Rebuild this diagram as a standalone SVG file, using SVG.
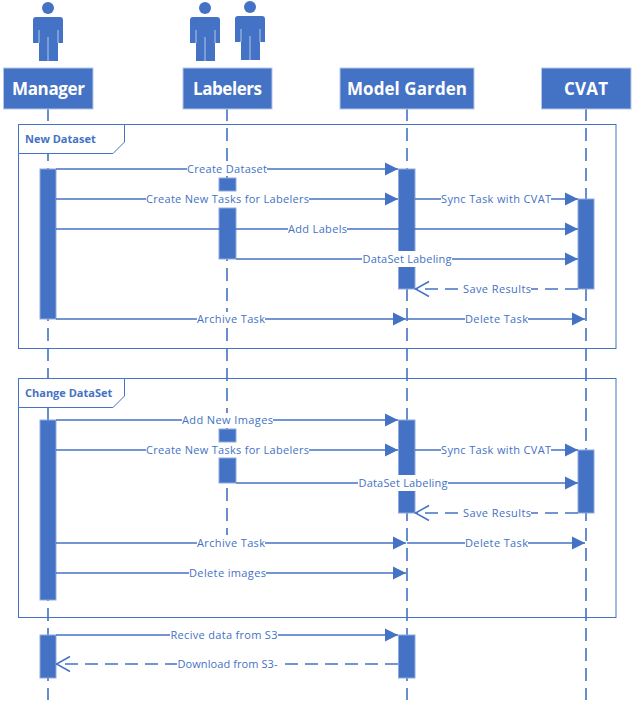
<svg xmlns="http://www.w3.org/2000/svg" width="632" height="709" viewBox="0 0 632 709">
<style>
text{font-family:"Open Sans","Noto Sans","Liberation Sans",sans-serif}
.hd{fill:#4472C4;stroke:#B4C7E7;stroke-width:1}
.hdt{fill:#fff;font-size:17px;font-weight:700;text-anchor:middle}
.life{stroke:#4472C4;stroke-width:1.6;stroke-dasharray:13 7;fill:none}
.act{fill:#4472C4;stroke:#8FAADC;stroke-width:1}
.msg{stroke:#4472C4;stroke-width:1.6;fill:none}
.ret{stroke:#4472C4;stroke-width:1.6;fill:none;stroke-dasharray:13 7}
.lb{fill:#fff}
.lt{fill:#4472C4;font-size:11px;text-anchor:middle}
.fr{fill:none;stroke:#4472C4;stroke-width:1}
.tag{fill:#fff;stroke:#4472C4;stroke-width:1}
.ft{fill:#4472C4;font-size:11px;font-weight:700}
.p{fill:#4472C4}
.sep{stroke:#B4C7E7;stroke-width:1}
</style>
<defs>
<marker id="fa" markerUnits="userSpaceOnUse" markerWidth="14" markerHeight="14" refX="13" refY="7" orient="auto"><path d="M0 .5L13 7L0 13.500z" fill="#4472C4"/></marker>
<marker id="oa" markerUnits="userSpaceOnUse" markerWidth="16" markerHeight="18" refX="15" refY="9" orient="auto"><path d="M1 1.500L14.500 9L1 16.500" fill="none" stroke="#4472C4" stroke-width="1.5"/></marker>
<g id="person"><circle cx="0" cy="8" r="6"/><path d="M-12 17H12Q15 17 15 20V43H10V61H-9V43H-15V20Q-15 17-12 17z"/><path class="sep" d="M0 37V61M-9 30V43M10 30V43"/></g>
</defs>
<g id="lifelines">
<path class="life" d="M48 108V700"/>
<path class="life" d="M227 108V178"/>
<path class="life" d="M227 208V429"/>
<path class="life" stroke-dashoffset="10" d="M227 458V535"/>
<path class="life" d="M407 108V700"/>
<path class="life" d="M586 108V700"/>
</g>
<g id="frame-new-dataset"><rect class="fr" x="18.500" y="124.500" width="597.500" height="224"/><path class="tag" d="M18.500 124.500H124.500V142L113 153.500H18.500z"/><text class="ft" x="25" y="143">New Dataset</text></g>
<g id="frame-change-dataset"><rect class="fr" x="18.500" y="378.500" width="597.500" height="239"/><path class="tag" d="M18.500 378.500H124.500V396L113 407.500H18.500z"/><text class="ft" x="25" y="397">Change DataSet</text></g>
<g id="manager"><use href="#person" x="48" class="p"/><rect class="hd" x="3.500" y="68" width="89.500" height="41"/><text class="hdt" x="48.500" y="95" textLength="73">Manager</text></g>
<g id="labelers"><use href="#person" x="205" class="p"/><use href="#person" x="250" y="-1" class="p"/><rect class="hd" x="183" y="68" width="89" height="41"/><text class="hdt" x="227.500" y="95" textLength="69">Labelers</text></g>
<g id="model-garden"><rect class="hd" x="340" y="68" width="134" height="41"/><text class="hdt" x="407" y="95" textLength="120">Model Garden</text></g>
<g id="cvat"><rect class="hd" x="541.500" y="68" width="89.500" height="41"/><text class="hdt" x="586" y="95" textLength="44">CVAT</text></g>
<g id="activations">
<rect class="act" x="40" y="169" width="16" height="150"/><rect class="act" x="40" y="420" width="16" height="180"/><rect class="act" x="40" y="635" width="16" height="43"/>
<rect class="act" x="219" y="178" width="17" height="13"/><rect class="act" x="219" y="208" width="17" height="51"/><rect class="act" x="219" y="429" width="17" height="13"/><rect class="act" x="219" y="458" width="17" height="25"/>
<rect class="act" x="398.500" y="169" width="16.500" height="120"/><rect class="act" x="398.500" y="420" width="16.500" height="93"/><rect class="act" x="398.500" y="635" width="16.500" height="43"/>
<rect class="act" x="578" y="199" width="16" height="90"/><rect class="act" x="578" y="450" width="16" height="63"/>
</g>
<g id="connectors">
<path class="msg" marker-end="url(#fa)" d="M56 169H398"/>
<path class="msg" marker-end="url(#fa)" d="M56 199H398"/>
<path class="msg" marker-end="url(#fa)" d="M415 199H578"/>
<path class="msg" marker-end="url(#fa)" d="M56 229H578"/>
<path class="msg" marker-end="url(#fa)" d="M236 259H578"/>
<path class="ret" marker-end="url(#oa)" d="M578 289H415"/>
<path class="msg" marker-end="url(#fa)" d="M56 319H406"/>
<path class="msg" marker-end="url(#fa)" d="M407 319H585"/>
<path class="msg" marker-end="url(#fa)" d="M56 420H398"/>
<path class="msg" marker-end="url(#fa)" d="M56 450H398"/>
<path class="msg" marker-end="url(#fa)" d="M415 450H578"/>
<path class="msg" marker-end="url(#fa)" d="M236 483H578"/>
<path class="ret" marker-end="url(#oa)" d="M578 513H415"/>
<path class="msg" marker-end="url(#fa)" d="M56 543H406"/>
<path class="msg" marker-end="url(#fa)" d="M407 543H585"/>
<path class="msg" marker-end="url(#fa)" d="M56 573H406"/>
<path class="msg" marker-end="url(#fa)" d="M56 635H398"/>
<path class="ret" marker-end="url(#oa)" d="M398 664H56"/>
</g>
<g id="labels">
<rect class="lb" x="187" y="162" width="80" height="14"/><text class="lt" x="227" y="173" textLength="80">Create Dataset</text>
<rect class="lb" x="146" y="192" width="163" height="14"/><text class="lt" x="227.500" y="203" textLength="163">Create New Tasks for Labelers</text>
<rect class="lb" x="441" y="192" width="110" height="14"/><text class="lt" x="496" y="203" textLength="110">Sync Task with CVAT</text>
<rect class="lb" x="288" y="222" width="59" height="14"/><text class="lt" x="317.500" y="233" textLength="59">Add Labels</text>
<rect class="lb" x="362" y="251" width="90" height="16"/><text class="lt" x="407" y="263" textLength="89">DataSet Labeling</text>
<rect class="lb" x="463" y="282" width="68" height="14"/><text class="lt" x="497" y="293" textLength="68">Save Results</text>
<rect class="lb" x="197" y="312" width="68" height="14"/><text class="lt" x="231" y="323" textLength="68">Archive Task</text>
<rect class="lb" x="465" y="312" width="63" height="14"/><text class="lt" x="496.500" y="323" textLength="63">Delete Task</text>
<rect class="lb" x="182" y="413" width="91" height="14"/><text class="lt" x="227.500" y="424" textLength="91">Add New Images</text>
<rect class="lb" x="146" y="443" width="163" height="14"/><text class="lt" x="227.500" y="454" textLength="163">Create New Tasks for Labelers</text>
<rect class="lb" x="441" y="443" width="110" height="14"/><text class="lt" x="496" y="454" textLength="110">Sync Task with CVAT</text>
<rect class="lb" x="358" y="475" width="90" height="16"/><text class="lt" x="403" y="487" textLength="89">DataSet Labeling</text>
<rect class="lb" x="463" y="506" width="68" height="14"/><text class="lt" x="497" y="517" textLength="68">Save Results</text>
<rect class="lb" x="197" y="536" width="68" height="14"/><text class="lt" x="231" y="547" textLength="68">Archive Task</text>
<rect class="lb" x="465" y="536" width="63" height="14"/><text class="lt" x="496.500" y="547" textLength="63">Delete Task</text>
<rect class="lb" x="189" y="566" width="77" height="14"/><text class="lt" x="227.500" y="577" textLength="77">Delete images</text>
<rect class="lb" x="170" y="628" width="108" height="14"/><text class="lt" x="224" y="639" textLength="107">Recive data from S3</text>
<rect class="lb" x="177" y="657" width="103" height="14"/><text class="lt" x="227.500" y="668" textLength="100">Download from S3-</text>
</g>
</svg>
